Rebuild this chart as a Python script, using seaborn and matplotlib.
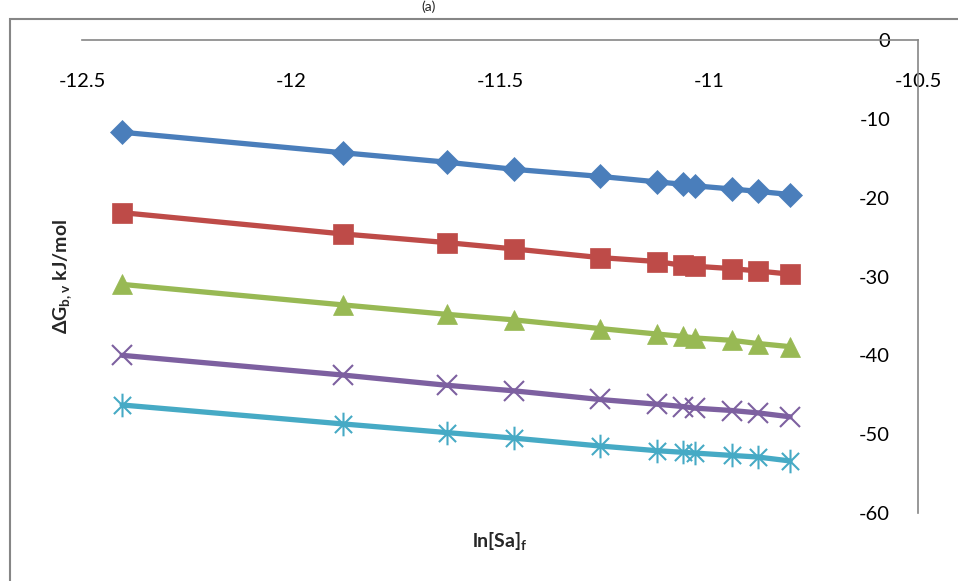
import numpy as np
import pandas as pd
import matplotlib
matplotlib.use("Agg")
import matplotlib.pyplot as plt
from matplotlib.path import Path
from matplotlib.patches import Rectangle
import seaborn as sns

sns.set_theme(style="white")
plt.rcParams["font.family"] = ["Lato", "DejaVu Sans"]
plt.rcParams["mathtext.fontset"] = "custom"
plt.rcParams["mathtext.rm"] = "Lato"
plt.rcParams["mathtext.bf"] = "Lato:bold"
plt.rcParams["mathtext.default"] = "bf"

# ln[Sa]f values (shared by every series)
ln_sa = [-12.404, -11.876, -11.627, -11.467, -11.261, -11.124,
         -11.062, -11.033, -10.945, -10.883, -10.806]

# delta G values (kJ/mol), one series per curve
dg_1 = [-11.7, -14.3, -15.5, -16.4, -17.3, -18.0, -18.3, -18.5, -18.9, -19.2, -19.6]
dg_2 = [-21.9, -24.6, -25.7, -26.5, -27.6, -28.1, -28.6, -28.7, -29.0, -29.3, -29.7]
dg_3 = [-31.0, -33.6, -34.8, -35.5, -36.6, -37.3, -37.6, -37.8, -38.1, -38.5, -38.9]
dg_4 = [-40.0, -42.5, -43.8, -44.5, -45.6, -46.2, -46.5, -46.7, -47.0, -47.3, -47.8]
dg_5 = [-46.3, -48.7, -49.8, -50.5, -51.5, -52.1, -52.3, -52.4, -52.7, -52.9, -53.4]

x_ticks = [-12.5, -12, -11.5, -11, -10.5]
x_labels = ["-12.5", "-12", "-11.5", "-11", "-10.5"]
y_ticks = [0, -10, -20, -30, -40, -50, -60]

# Excel-style "star" marker: an X with a vertical bar
star = Path([(-0.8, -0.8), (0.8, 0.8), (-0.8, 0.8), (0.8, -0.8), (0, -1.1), (0, 1.1)],
            [Path.MOVETO, Path.LINETO, Path.MOVETO, Path.LINETO, Path.MOVETO, Path.LINETO])

series = [
    (dg_1, "#4A7EBB", "D", 12, 0.5),
    (dg_2, "#BE4B48", "s", 14, 0.5),
    (dg_3, "#98B954", "^", 15, 0.5),
    (dg_4, "#7D60A0", "x", 15, 1.5),
    (dg_5, "#46AAC5", star, 17, 1.5),
]

fig = plt.figure(figsize=(9.58, 5.81), dpi=100)
ax = fig.add_axes([82 / 958, 1 - 513 / 581, (918 - 82) / 958, (513 - 40) / 581])

for vals, color, marker, ms, mew in series:
    df = pd.DataFrame({"x": ln_sa, "y": vals})
    sns.lineplot(data=df, x="x", y="y", ax=ax, color=color, linewidth=3.8,
                 marker=marker, markersize=ms, markeredgecolor=color,
                 markerfacecolor=color, markeredgewidth=mew)

ax.set_xlim(-12.5, -10.5)
ax.set_ylim(-60, 0)

for side in ("left", "bottom"):
    ax.spines[side].set_visible(False)
for side in ("top", "right"):
    ax.spines[side].set_color("#868686")
    ax.spines[side].set_linewidth(1.2)

ax.xaxis.tick_top()
ax.set_xticks(x_ticks)
ax.set_xticklabels(x_labels)
ax.tick_params(axis="x", length=0, pad=-36, labelsize=14.5, colors="black")

ax.yaxis.tick_right()
ax.set_yticks(y_ticks)
ax.set_yticklabels([str(v) for v in y_ticks])
ax.tick_params(axis="y", length=0, pad=-20, labelsize=14.5, colors="black")
plt.setp(ax.get_yticklabels(), ha="right")

ax.xaxis.set_label_position("bottom")
ax.set_xlabel("ln[Sa]$_{f}$", fontsize=14, fontweight="bold", labelpad=12)
ax.yaxis.set_label_position("left")
ax.set_ylabel("ΔG$_{b,v}$ kJ/mol", fontsize=14, fontweight="bold", labelpad=6)

# outer chart-area frame (cropped on the right and bottom)
fig.patches.append(Rectangle((10 / 958, -0.2), 1.2, 1 - 19 / 581 + 0.2,
                             transform=fig.transFigure, fill=False,
                             edgecolor="#868686", linewidth=1.5))
fig.text(0.447, 0.999, "(a)", ha="center", va="top", fontsize=10)

fig.savefig("out.png", dpi=100)
